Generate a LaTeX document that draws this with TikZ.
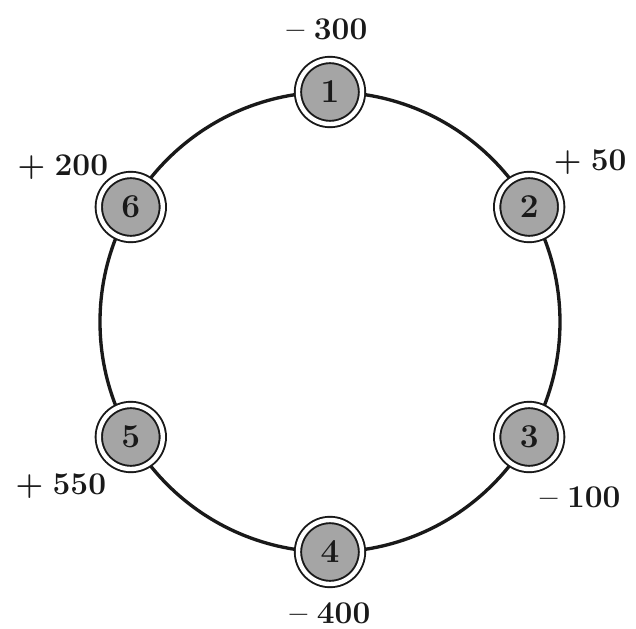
\documentclass[tikz,border=0pt]{standalone}
\usepackage{fontspec}
\usepackage{tikz}
\usetikzlibrary{positioning}
\definecolor{ink}{RGB}{25,25,25}
\definecolor{disc}{RGB}{165,165,165}
\tikzset{
  site/.style={circle,draw=ink,line width=1.1pt,double=white,double distance=2.5pt,
    fill=disc,minimum size=1.28cm,inner sep=0pt,
    font=\fontsize{19}{21}\selectfont\bfseries,text=ink},
  flow/.style={font=\fontsize{18}{20}\selectfont\bfseries,text=ink,inner sep=1pt},
  ring/.style={draw=ink,line width=1.9pt},
}
\newcommand{\gap}{\hspace{0.3em}}

\begin{document}
\begin{tikzpicture}
  \useasboundingbox (-6.6,-6.14) rectangle (6.12,6.44);
  \draw[ring] (0,0) circle (4.6);
  \node[site] (n1) at (90:4.6) {1};
  \node[site] (n2) at (30:4.6) {2};
  \node[site] (n3) at (-30:4.6) {3};
  \node[site] (n4) at (-90:4.6) {4};
  \node[site] (n5) at (-150:4.6) {5};
  \node[site] (n6) at (150:4.6) {6};
  % net flow at each site
  \node[flow] (v1) at ([shift={(-0.06,1.26)}]n1) {--\gap300};
  \node[flow] (v2) at ([shift={(1.22,0.9)}]n2) {+\gap50};
  \node[flow] (v3) at ([shift={(1.02,-1.2)}]n3) {--\gap100};
  \node[flow] (v4) at ([shift={(0.0,-1.22)}]n4) {--\gap400};
  \node[flow] (v5) at ([shift={(-1.4,-0.98)}]n5) {+\gap550};
  \node[flow] (v6) at ([shift={(-1.36,0.8)}]n6) {+\gap200};
\end{tikzpicture}
\end{document}
